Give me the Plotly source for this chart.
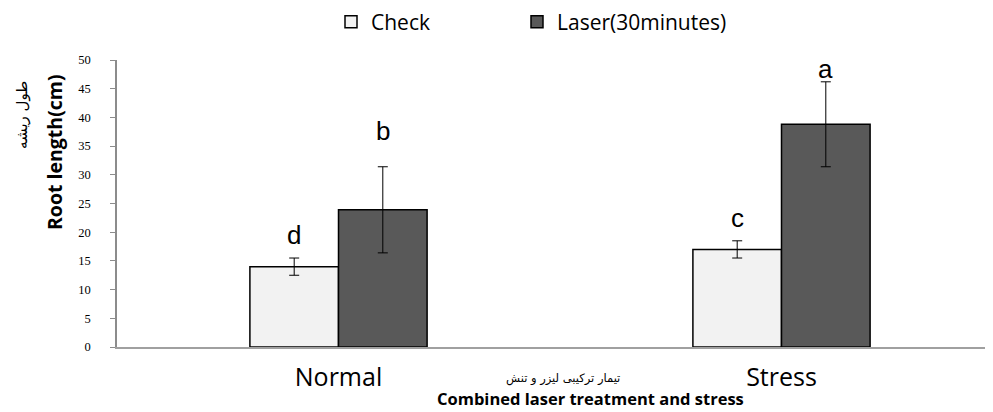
import plotly.graph_objects as go

categories = ["Normal", "Stress"]
check_vals = [14.0, 17.0]
check_err = [1.5, 1.5]
laser_vals = [23.9, 38.8]
laser_err = [7.5, 7.4]
check_letters = ["d", "c"]
laser_letters = ["b", "a"]
check_letter_y = [16.6, 19.6]
laser_letter_y = [34.6, 45.4]
y_ticks = [0, 5, 10, 15, 20, 25, 30, 35, 40, 45, 50]

fig = go.Figure()
fig.add_trace(go.Bar(
    x=categories, y=check_vals, name="Check", legend="legend",
    marker=dict(color="#f2f2f2", line=dict(color="#000000", width=1.5)),
    error_y=dict(type="data", array=check_err, color="#000000", thickness=1, width=5),
))
fig.add_trace(go.Bar(
    x=categories, y=laser_vals, name="Laser(30minutes)", legend="legend2",
    marker=dict(color="#595959", line=dict(color="#000000", width=1.5)),
    error_y=dict(type="data", array=laser_err, color="#000000", thickness=1, width=5),
))

for i, c in enumerate(categories):
    fig.add_annotation(x=i - 0.1, y=check_letter_y[i], text=check_letters[i], showarrow=False,
                       yanchor="bottom", font=dict(family="Liberation Sans", size=26, color="#000"))
    fig.add_annotation(x=i + 0.1, y=laser_letter_y[i], text=laser_letters[i], showarrow=False,
                       yanchor="bottom", font=dict(family="Liberation Sans", size=26, color="#000"))

# page body has an 8px margin; coordinates below are in window pixels
OFF = 8
W, H = 993 - OFF, 412 - OFF
L, R, T = 117 - OFF, 0, 60 - OFF
B = H - (347 - OFF)
pw = W - L - R
ph = H - T - B

def px(xw):
    return (xw - OFF - L) / pw

def py(yw):
    return (H - B - (yw - OFF)) / ph

ann = dict(xref="paper", yref="paper", showarrow=False, xanchor="center", yanchor="middle")
fig.add_annotation(x=px(54), y=py(152), text="<b>Root length(cm)</b>", textangle=-90,
                   font=dict(family="Open Sans", size=19.5, color="#000"), **ann)
fig.add_annotation(x=px(22), y=py(115), text="طول ریشه", textangle=-90,
                   font=dict(family="DejaVu Sans", size=15, color="#000"), **ann)
fig.add_annotation(x=px(563), y=py(378), text="تیمار ترکیبی لیزر و تنش",
                   font=dict(family="DejaVu Sans", size=11.5, color="#000"), **ann)
fig.add_annotation(x=px(590), y=py(398), text="<b>Combined laser treatment and stress</b>",
                   font=dict(family="Open Sans", size=16.5, color="#000"), **ann)

leg_common = dict(orientation="h", xanchor="left", yanchor="middle", y=py(22),
                  font=dict(family="Open Sans", size=21, color="#000"), bgcolor="rgba(0,0,0,0)")

fig.update_layout(
    width=W, height=H,
    margin=dict(l=L, r=R, t=T, b=B, pad=0, autoexpand=False),
    paper_bgcolor="white", plot_bgcolor="white",
    barmode="group", bargap=0.6, bargroupgap=0,
    showlegend=True,
    legend=dict(x=px(331), **leg_common),
    legend2=dict(x=px(517), **leg_common),
    xaxis=dict(range=[-0.5, -0.5 + pw / 443], showline=True, linecolor="#a0a0a0", linewidth=2,
               ticks="", showgrid=False, zeroline=False,
               tickfont=dict(family="Open Sans", size=25, color="#000"), ticklabelstandoff=7),
    yaxis=dict(range=[0, 50], tickvals=y_ticks, showline=True, linecolor="#8c8c8c", linewidth=1.5,
               ticks="outside", ticklen=5, tickcolor="#8c8c8c", showgrid=False, zeroline=False,
               tickfont=dict(family="Liberation Serif", size=12.5, color="#000"), ticklabelstandoff=17),
)

fig.write_html("out.html")
